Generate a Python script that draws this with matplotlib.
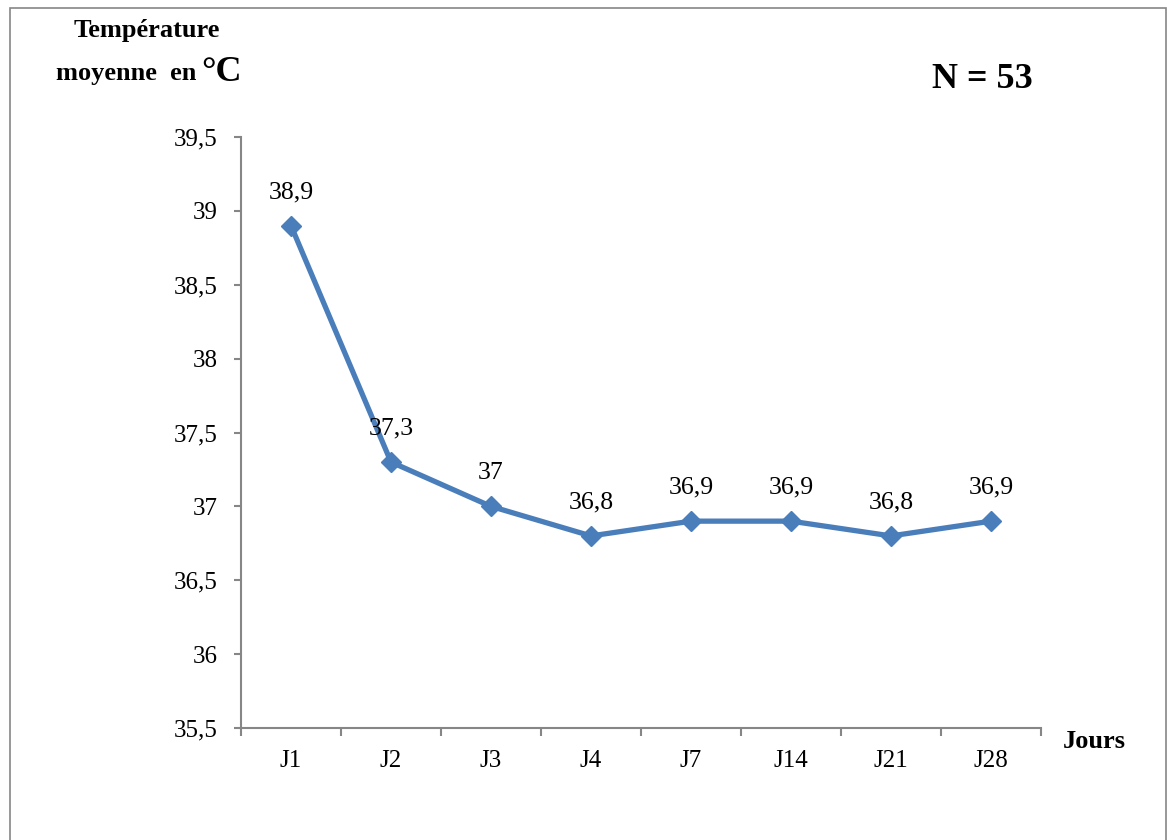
import matplotlib
matplotlib.use("Agg")
import matplotlib.pyplot as plt
from matplotlib.patches import Rectangle

plt.rcParams['font.family'] = ['Liberation Serif', 'DejaVu Serif']

days = ["J1", "J2", "J3", "J4", "J7", "J14", "J21", "J28"]
temps = [38.9, 37.3, 37.0, 36.8, 36.9, 36.9, 36.8, 36.9]
labels = ["38,9", "37,3", "37", "36,8", "36,9", "36,9", "36,8", "36,9"]
yticks = [35.5, 36, 36.5, 37, 37.5, 38, 38.5, 39, 39.5]
ytick_labels = ["35,5", "36", "36,5", "37", "37,5", "38", "38,5", "39", "39,5"]

W, H = 1167, 840
fig = plt.figure(figsize=(W / 100, H / 100), dpi=100)
ax = fig.add_axes([241 / W, 1 - 728 / H, 800 / W, (728 - 137) / H])

x = [i + 0.5 for i in range(len(days))]
ax.plot(x, temps, color="#4a7ebb", lw=3.8, marker="D", markersize=10,
        markerfacecolor="#4a7ebb", markeredgecolor="#4a7ebb", zorder=3)
for xi, yi, lab in zip(x, temps, labels):
    ax.annotate(lab, (xi, yi), xytext=(0, 24), textcoords="offset points",
                ha="center", va="center", fontsize=18.5)

ax.set_xlim(0, len(days))
ax.set_ylim(35.5, 39.5)
ax.set_yticks(yticks)
ax.set_yticklabels(ytick_labels, fontsize=18)
ax.set_xticks(range(len(days) + 1))
ax.set_xticklabels([])
ax.set_xticks(x, minor=True)
ax.set_xticklabels(days, minor=True, fontsize=18)
ax.tick_params(axis="x", which="minor", length=0, pad=16)
ax.tick_params(axis="x", which="major", length=6, width=1.5, color="#868686", direction="out")
ax.tick_params(axis="y", length=5, width=1.5, color="#868686", direction="out", pad=12)

for s in ["top", "right"]:
    ax.spines[s].set_visible(False)
for s in ["left", "bottom"]:
    ax.spines[s].set_color("#868686")
    ax.spines[s].set_linewidth(1.5)

fig.text(147 / W, 1 - 31 / H, "Température", ha="center", va="center",
         fontsize=19, fontweight="bold")
fig.text(56 / W, 1 - 80 / H, "moyenne  en ", ha="left", va="baseline",
         fontsize=19, fontweight="bold")
fig.text(201 / W, 1 - 81 / H, "°C", ha="left", va="baseline",
         fontsize=26, fontweight="bold")
fig.text(982 / W, 1 - 80 / H, "N = 53", ha="center", va="center",
         fontsize=26, fontweight="bold")
fig.text(1094 / W, 1 - 741 / H, "Jours", ha="center", va="center",
         fontsize=19, fontweight="bold")

frame = Rectangle((9.5 / W, -0.05), (1165.5 - 9.5) / W, 1.05 - 8.5 / H,
                  transform=fig.transFigure, fill=False,
                  edgecolor="#868686", lw=1.2, clip_on=False)
fig.add_artist(frame)

fig.savefig("out.png", dpi=100)
